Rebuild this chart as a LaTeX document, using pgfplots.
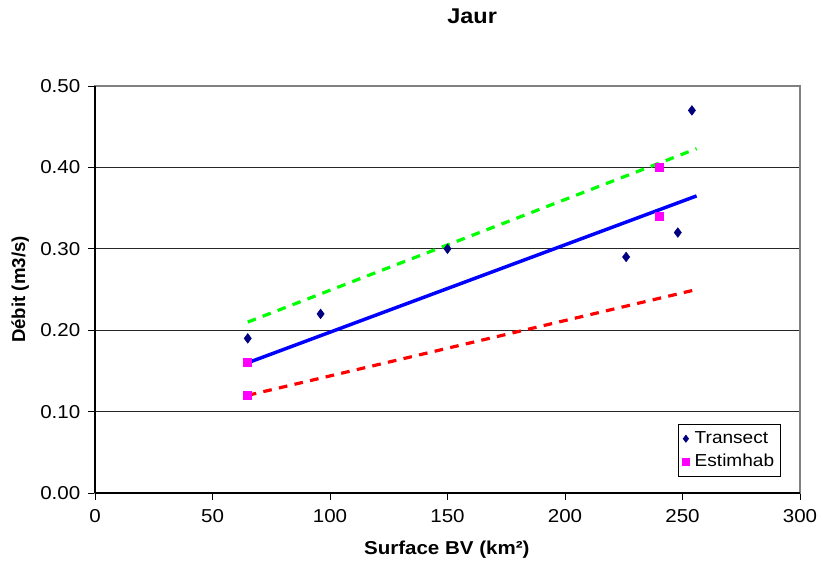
\documentclass[border=0pt]{standalone}
\usepackage{graphicx}
\usepackage{pgfplots}
\pgfplotsset{compat=1.18}
\usepackage{fontspec}
\setmainfont{Liberation Sans}
\definecolor{navyblue}{HTML}{000080}
\definecolor{magentapt}{HTML}{FF00FF}
\definecolor{trendblue}{HTML}{0000FF}
\definecolor{trendgreen}{HTML}{00FF00}
\definecolor{trendred}{HTML}{FF0000}
% slightly widened lettering
\newcommand{\hs}[1]{\scalebox{1.1}[1]{#1}}
\begin{document}
\begin{tikzpicture}
\useasboundingbox (0,0) rectangle (617.25pt,426pt);
\begin{axis}[
  at={(71.25pt,56.25pt)}, anchor=south west,
  scale only axis, width=528.75pt, height=305.25pt,
  xmin=0, xmax=300, ymin=0, ymax=0.5,
  xtick={0,50,100,150,200,250,300},
  ytick={0,0.1,0.2,0.3,0.4,0.5},
  xtick pos=bottom, ytick pos=left,
  /pgf/number format/assume math mode=true,
  xticklabel={\hs{\pgfmathprintnumber{\tick}}},
  yticklabel={\hs{\pgfmathprintnumber[fixed,fixed zerofill,precision=2]{\tick}}},
  ticklabel style={font=\fontsize{14}{16}\selectfont},
  xticklabel style={yshift=-4pt},
  yticklabel style={xshift=-2.5pt},
  tick align=outside, tick style={black, line width=0.6pt},
  major tick length=5pt,
  ymajorgrids, grid style={black!85, line width=0.6pt},
  axis line style={draw=gray, line width=1pt},
  clip=false,
  xlabel={\hs{\bfseries Surface BV (km²)}},
  ylabel={\bfseries Débit (m3/s)},
  label style={font=\fontsize{14}{16}\selectfont},
  xlabel style={at={(axis description cs:0.499,-0.14)}, anchor=center},
  ylabel style={at={(axis description cs:-0.106,0.5)}, anchor=center, rotate=0},
  title={\hs{\bfseries Jaur}},
  title style={font=\fontsize{16}{18}\selectfont, at={(axis description cs:0.535,1.152)}, anchor=center, yshift=0pt},
  legend style={at={(axis description cs:0.827,0.1695)}, anchor=north west,
    font=\fontsize{13}{15}\selectfont, draw=black, line width=0.6pt,
    inner xsep=3pt, inner ysep=3.5pt, row sep=2.5pt, cells={anchor=west}},
  legend cell align=left,
  legend image post style={mark size=2.6pt},
]
% fitted lines
\addplot[trendgreen, line width=2.4pt, dash pattern=on 6.5pt off 5.5pt, forget plot]
  coordinates {(65,0.210) (256,0.423)};
\addplot[trendred, line width=2.4pt, dash pattern=on 6.5pt off 5.5pt, forget plot]
  coordinates {(65,0.120) (256,0.250)};
\addplot[trendblue, line width=2.6pt, forget plot]
  coordinates {(65,0.160) (256,0.365)};
% observations
\addplot[only marks, mark=diamond*, mark size=3.6pt, color=navyblue]
  coordinates {(65,0.19) (96,0.22) (150,0.30) (226,0.29) (248,0.32) (254,0.47)};
\addlegendentry{\hspace{2pt}\hs{Transect}\hspace{1pt}}
\addplot[only marks, mark=square*, mark size=3pt, color=magentapt]
  coordinates {(65,0.16) (65,0.12) (240,0.40) (240,0.34)};
\addlegendentry{\hspace{2pt}\hs{Estimhab}\hspace{1pt}}
% dark axis lines on the left and at the bottom
\draw[black, line width=0.8pt] (rel axis cs:0,0) -- (rel axis cs:0,1);
\draw[black, line width=0.8pt] (rel axis cs:0,0) -- (rel axis cs:1,0);
\end{axis}
\end{tikzpicture}
\end{document}
